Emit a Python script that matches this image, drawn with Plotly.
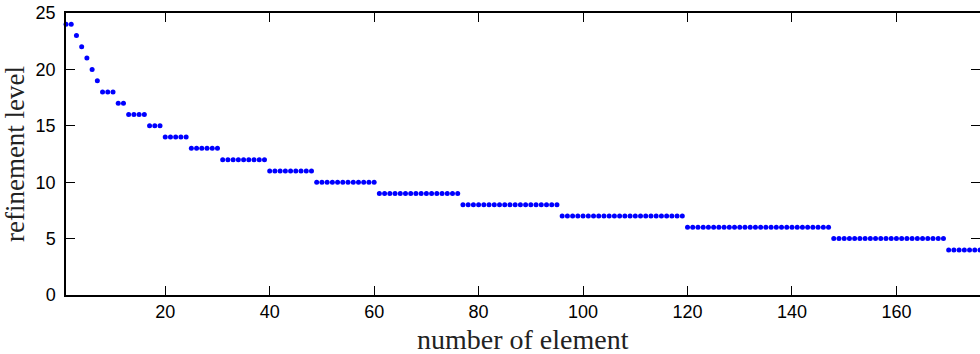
import plotly.graph_objects as go

# refinement level per element (run-length)
levels = [24, 23, 22, 21, 20, 19, 18, 17, 16, 15, 14, 13, 12, 11, 10, 9, 8, 7, 6, 5, 4]
counts = [2, 1, 1, 1, 1, 1, 3, 2, 4, 3, 5, 6, 9, 9, 12, 16, 19, 24, 28, 22, 7]

y_vals = []
for lv, c in zip(levels, counts):
    y_vals += [lv] * c
x_vals = list(range(1, len(y_vals) + 1))

x_ticks = [20, 40, 60, 80, 100, 120, 140, 160]
y_ticks = [0, 5, 10, 15, 20, 25]

fig = go.Figure()
fig.add_trace(go.Scatter(
    x=x_vals, y=y_vals, mode="markers",
    marker=dict(color="#0000ff", size=5, line=dict(width=0)),
    showlegend=False, cliponaxis=False,
))

axis_common = dict(
    showgrid=False, zeroline=False, showline=True, linecolor="black", linewidth=1.5,
    mirror="ticks", ticks="inside", ticklen=9, tickcolor="black", tickwidth=1,
    tickfont=dict(family="Liberation Sans, Arial, sans-serif", size=18, color="black"),
)

fig.update_layout(
    width=980, height=354,
    margin=dict(l=66, r=0, t=13, b=59, autoexpand=False),
    paper_bgcolor="white", plot_bgcolor="white",
    xaxis=dict(range=[1, 176], tickvals=x_ticks, ticktext=[str(v) for v in x_ticks],
               automargin=False,
               **axis_common),
    yaxis=dict(range=[0, 25], tickvals=y_ticks, ticktext=[str(v) for v in y_ticks],
               title=dict(text="refinement level",
                          font=dict(family="Liberation Serif, Times New Roman, serif", size=27, color="#222"),
                          standoff=6),
               ticklabelstandoff=5, automargin=False,
               **axis_common),
    annotations=[dict(
        text="number of element", xref="paper", yref="paper", x=0.5, y=0,
        xanchor="center", yanchor="top", yshift=-27, showarrow=False,
        font=dict(family="Liberation Serif, Times New Roman, serif", size=28, color="#222"),
    )],
)

fig.write_html("out.html", config={"displayModeBar": False},
               post_script="document.body.style.margin='0';document.body.style.overflow='hidden';")
